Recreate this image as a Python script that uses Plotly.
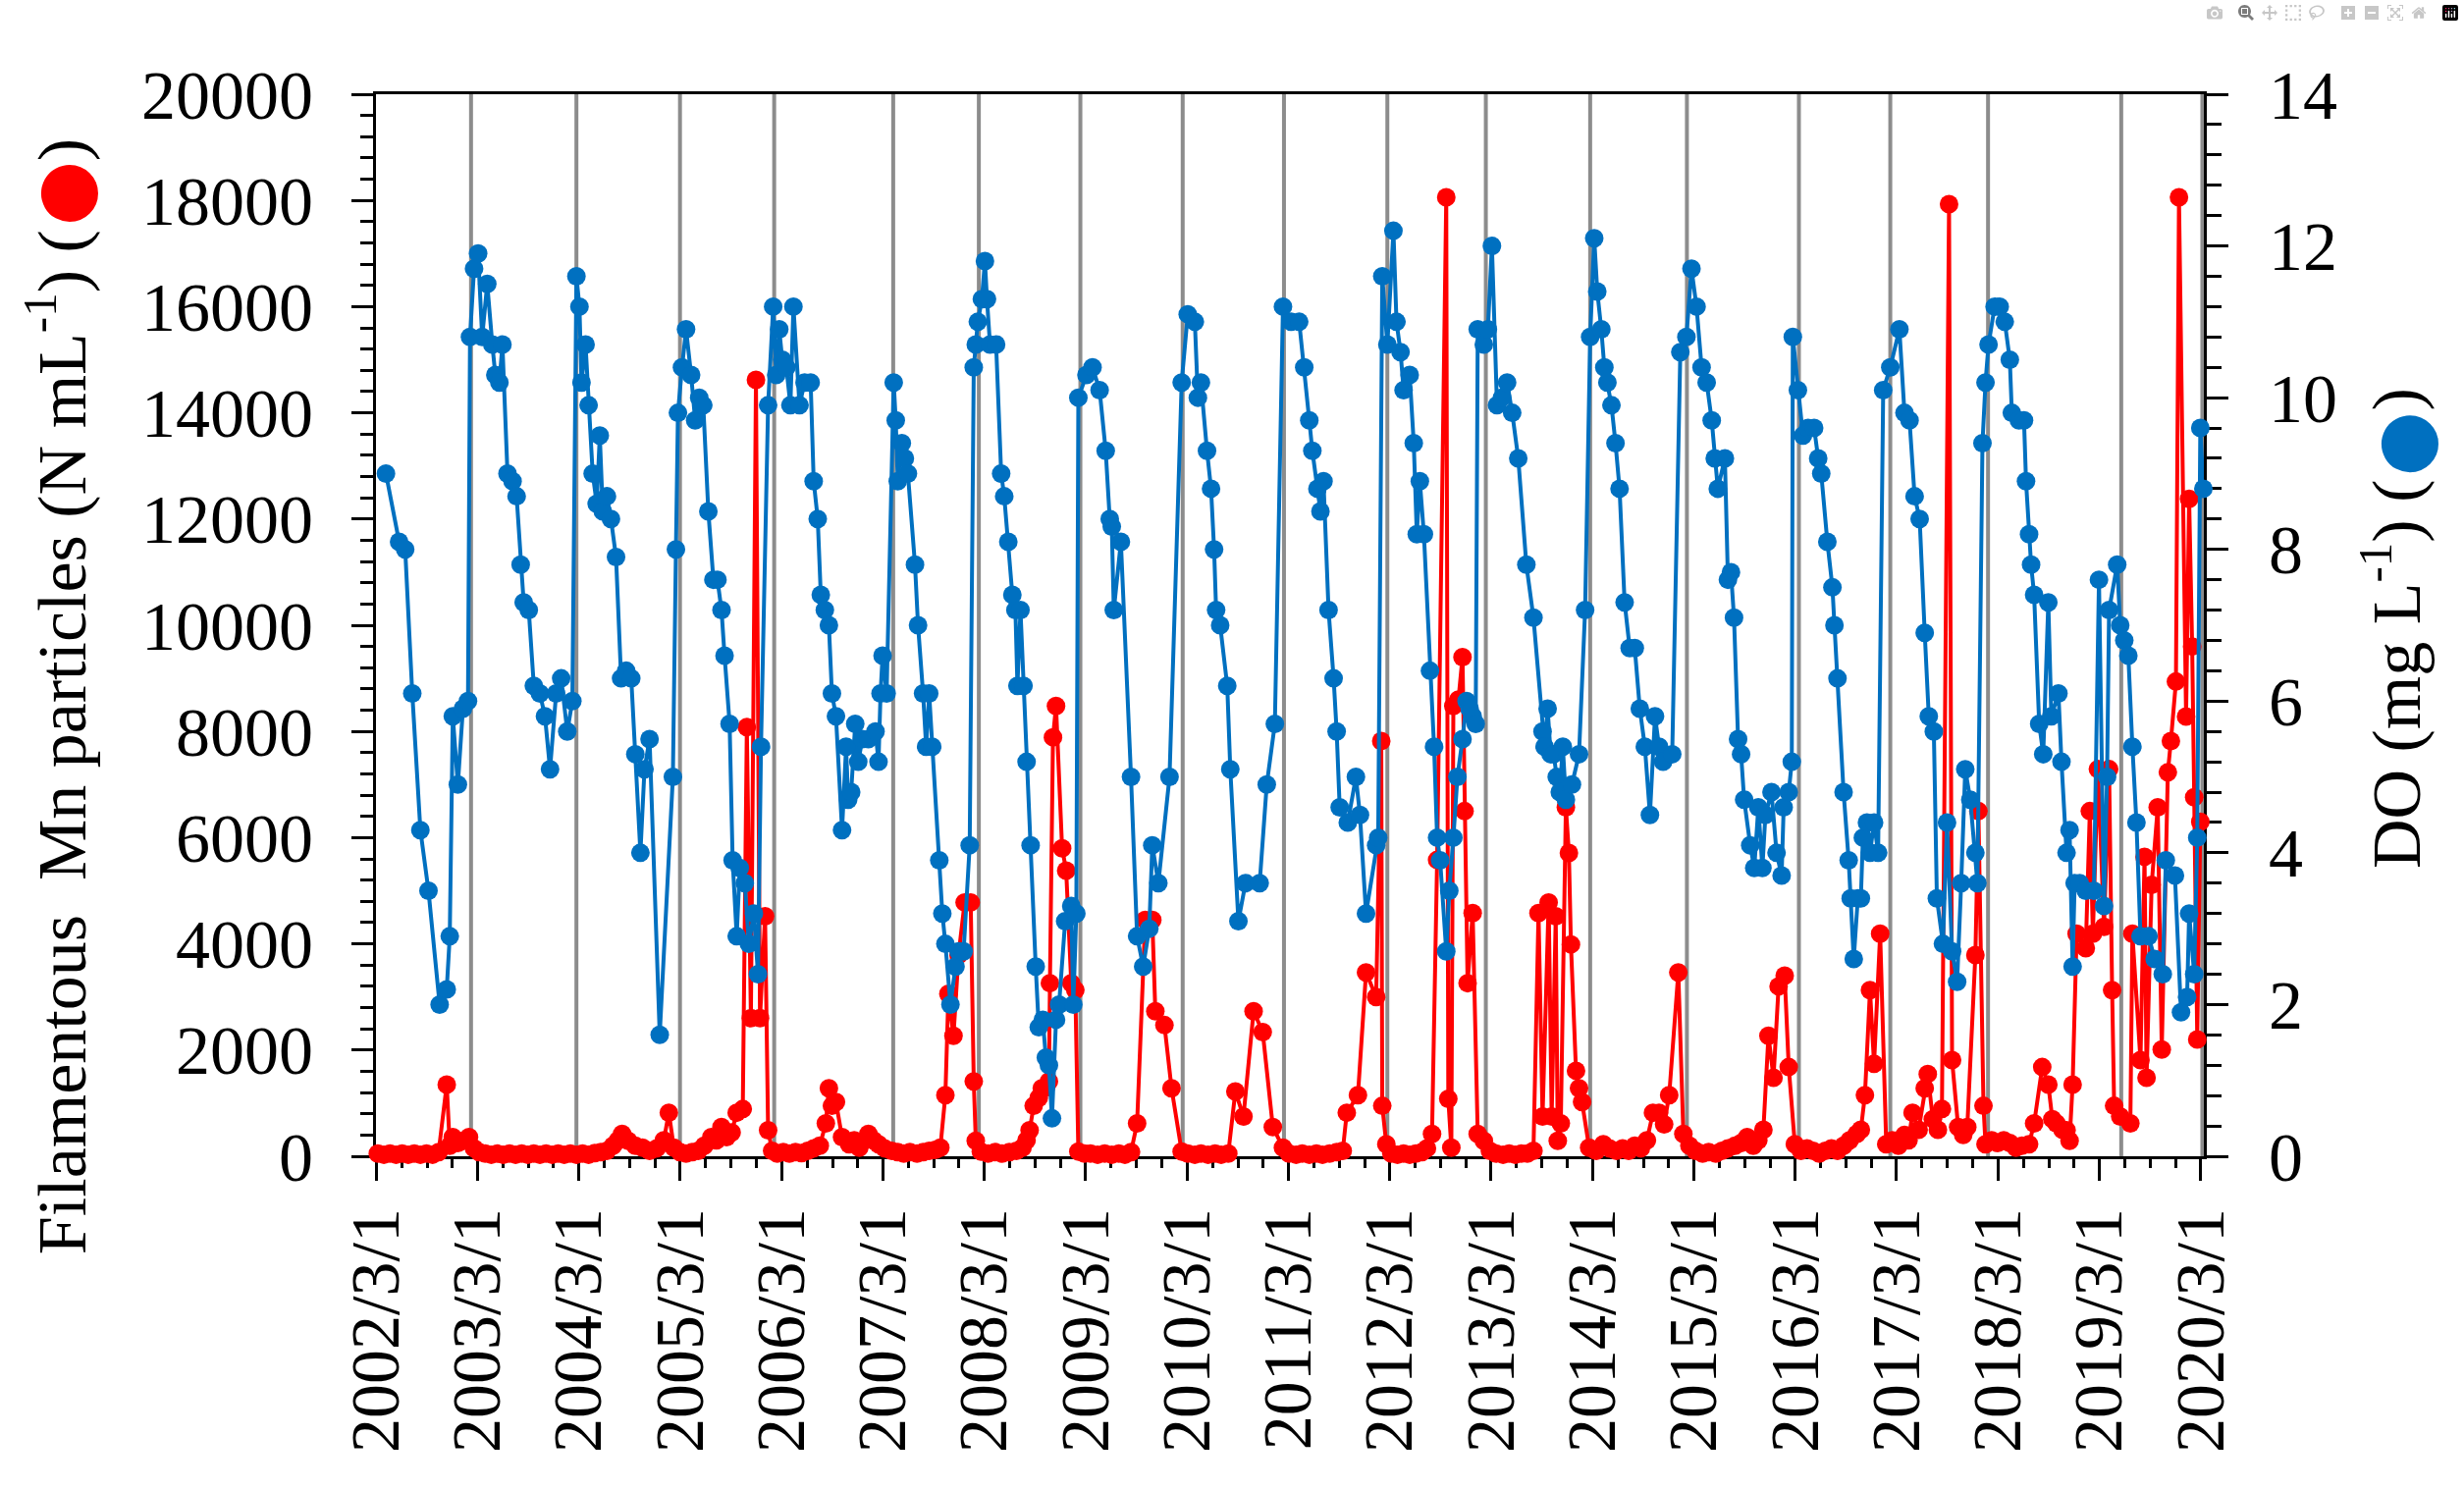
import plotly.graph_objects as go
from datetime import datetime

# ---------------- data (sample time in decimal years) ----------------
do_years = [
    2002.26, 2002.39, 2002.45, 2002.52, 2002.60, 2002.68, 2002.79, 2002.86, 2002.89, 2002.92, 2002.97, 2003.02, 2003.07,
    2003.09, 2003.13, 2003.17, 2003.21, 2003.26, 2003.31, 2003.34, 2003.38, 2003.41, 2003.46, 2003.51, 2003.55, 2003.59,
    2003.62, 2003.67, 2003.72, 2003.78, 2003.83, 2003.88, 2003.94, 2003.99, 2004.05, 2004.10,
    2004.14, 2004.17, 2004.19, 2004.23, 2004.26, 2004.30, 2004.34, 2004.37, 2004.40, 2004.44, 2004.48, 2004.53, 2004.58,
    2004.63, 2004.68, 2004.72, 2004.77, 2004.81, 2004.86, 2004.96, 2005.09,
    2005.12, 2005.14, 2005.18, 2005.22, 2005.27, 2005.31, 2005.35, 2005.39, 2005.44, 2005.49, 2005.53, 2005.57, 2005.60,
    2005.65, 2005.68, 2005.72, 2005.75, 2005.80, 2005.84, 2005.89, 2005.93, 2005.96,
    2006.03, 2006.08, 2006.11, 2006.14, 2006.17, 2006.21, 2006.25, 2006.28, 2006.34, 2006.39, 2006.45, 2006.48, 2006.52,
    2006.55, 2006.59, 2006.63, 2006.66, 2006.70, 2006.76, 2006.80, 2006.82, 2006.85, 2006.89, 2006.92, 2006.96, 2007.02,
    2007.09, 2007.12, 2007.14, 2007.16, 2007.20,
    2007.27, 2007.29, 2007.31, 2007.35, 2007.38, 2007.41, 2007.48, 2007.51, 2007.56, 2007.59, 2007.62, 2007.65, 2007.72,
    2007.75, 2007.78, 2007.83, 2007.88, 2007.91, 2007.96, 2008.02,
    2008.06, 2008.08, 2008.10, 2008.14, 2008.17, 2008.19, 2008.22, 2008.28, 2008.33, 2008.36, 2008.40, 2008.44, 2008.47,
    2008.49, 2008.52, 2008.55, 2008.58, 2008.62, 2008.67, 2008.70, 2008.74, 2008.77, 2008.80, 2008.83, 2008.87, 2008.90,
    2008.96, 2009.02, 2009.04, 2009.07,
    2009.09, 2009.17, 2009.23, 2009.30, 2009.36, 2009.40, 2009.42, 2009.44, 2009.51, 2009.61, 2009.67, 2009.73, 2009.79,
    2009.82, 2009.88, 2009.99,
    2010.11, 2010.17, 2010.24, 2010.27, 2010.30, 2010.36, 2010.40, 2010.43, 2010.45, 2010.49, 2010.56, 2010.59, 2010.67,
    2010.74, 2010.88, 2010.95, 2011.03,
    2011.11, 2011.19, 2011.27, 2011.32, 2011.37, 2011.40, 2011.45, 2011.48, 2011.51, 2011.56, 2011.61, 2011.64, 2011.67,
    2011.75, 2011.83, 2011.87, 2011.93, 2012.03, 2012.05,
    2012.09, 2012.14, 2012.20, 2012.23, 2012.27, 2012.30, 2012.36, 2012.40, 2012.43, 2012.46, 2012.50, 2012.56, 2012.60,
    2012.63, 2012.66, 2012.72, 2012.75, 2012.79, 2012.83, 2012.88, 2012.92, 2012.95, 2012.98, 2013.01,
    2013.03, 2013.09, 2013.13, 2013.17, 2013.22, 2013.27, 2013.32, 2013.37, 2013.43, 2013.51, 2013.58, 2013.67, 2013.69,
    2013.72, 2013.75, 2013.78, 2013.81, 2013.84, 2013.87, 2013.90, 2013.96, 2014.03, 2014.09,
    2014.14, 2014.18, 2014.21, 2014.25, 2014.28, 2014.31, 2014.35, 2014.39, 2014.43, 2014.48, 2014.53, 2014.58, 2014.63,
    2014.68, 2014.73, 2014.78, 2014.82, 2014.86, 2014.95,
    2015.03, 2015.09, 2015.14, 2015.19, 2015.24, 2015.29, 2015.34, 2015.37, 2015.40, 2015.47, 2015.50, 2015.53, 2015.56,
    2015.60, 2015.63, 2015.66, 2015.72, 2015.76, 2015.80, 2015.84, 2015.87, 2015.93, 2015.98, 2016.03, 2016.05, 2016.10,
    2016.13,
    2016.14, 2016.19, 2016.24, 2016.29, 2016.35, 2016.39, 2016.42, 2016.48, 2016.53, 2016.55, 2016.58, 2016.64, 2016.69,
    2016.71, 2016.74, 2016.78, 2016.81, 2016.83, 2016.87, 2016.90, 2016.94, 2016.98,
    2017.03, 2017.10, 2017.19, 2017.24, 2017.29, 2017.34, 2017.39, 2017.44, 2017.48, 2017.53, 2017.56, 2017.62, 2017.66,
    2017.71, 2017.76, 2017.80, 2017.84, 2017.89, 2017.94, 2017.96,
    2018.01, 2018.04, 2018.07, 2018.13, 2018.18, 2018.23, 2018.28, 2018.30, 2018.37, 2018.42, 2018.44, 2018.47, 2018.49,
    2018.52, 2018.57, 2018.61, 2018.66, 2018.69, 2018.76, 2018.79, 2018.84, 2018.87, 2018.90, 2018.92, 2018.97, 2019.03,
    2019.11,
    2019.16, 2019.21, 2019.24, 2019.26, 2019.34, 2019.37, 2019.41, 2019.45, 2019.49, 2019.53, 2019.57, 2019.65, 2019.71,
    2019.79, 2019.82, 2019.91, 2019.97, 2020.03, 2020.05, 2020.10, 2020.13, 2020.16, 2020.19,
]
do_mg_per_l = [
    9.0, 8.1, 8.0, 6.1, 4.3, 3.5, 2.0, 2.2, 2.9, 5.8, 4.9, 5.9, 6.0,
    10.8, 11.7, 11.9, 10.8, 11.5, 10.7, 10.3, 10.2, 10.7, 9.0, 8.9, 8.7, 7.8,
    7.3, 7.2, 6.2, 6.1, 5.8, 5.1, 6.1, 6.3, 5.6, 6.0,
    11.6, 11.2, 10.2, 10.7, 9.9, 9.0, 8.6, 9.5, 8.5, 8.7, 8.4, 7.9, 6.3,
    6.4, 6.3, 5.3, 4.0, 5.1, 5.5, 1.6, 5.0,
    8.0, 9.8, 10.4, 10.9, 10.3, 9.7, 10.0, 9.9, 8.5, 7.6, 7.6, 7.2, 6.6,
    5.7, 3.9, 2.9, 3.8, 3.6, 2.8, 3.2, 2.4, 5.4,
    9.9, 11.2, 10.3, 10.9, 10.5, 10.4, 9.9, 11.2, 9.9, 10.2, 10.2, 8.9, 8.4,
    7.4, 7.2, 7.0, 6.1, 5.8, 4.3, 5.4, 4.7, 4.8, 5.7, 5.2, 5.5, 5.5,
    5.6, 5.2, 6.1, 6.6, 6.1,
    10.2, 9.7, 8.9, 9.4, 9.2, 9.0, 7.8, 7.0, 6.1, 5.4, 6.1, 5.4, 3.9,
    3.2, 2.8, 2.0, 2.5, 2.7, 2.7, 4.1,
    10.4, 10.7, 11.0, 11.3, 11.8, 11.3, 10.7, 10.7, 9.0, 8.7, 8.1, 7.4, 7.2,
    6.2, 7.2, 6.2, 5.2, 4.1, 2.5, 1.7, 1.8, 1.3, 1.2, 0.5, 1.8, 2.0,
    3.1, 3.3, 2.0, 3.2,
    10.0, 10.3, 10.4, 10.1, 9.3, 8.4, 8.3, 7.2, 8.1, 5.0, 2.9, 2.5, 3.0,
    4.1, 3.6, 5.0,
    10.2, 11.1, 11.0, 10.0, 10.2, 9.3, 8.8, 8.0, 7.2, 7.0, 6.2, 5.1, 3.1,
    3.6, 3.6, 4.9, 5.7,
    11.2, 11.0, 11.0, 10.4, 9.7, 9.3, 8.8, 8.5, 8.9, 7.2, 6.3, 5.6, 4.6,
    4.4, 5.0, 4.5, 3.2, 4.1, 4.2,
    11.6, 10.7, 12.2, 11.0, 10.6, 10.1, 10.3, 9.4, 8.2, 8.9, 8.2, 6.4, 5.4,
    4.2, 3.9, 2.7, 3.5, 4.2, 5.0, 5.5, 6.0, 5.9, 5.8, 5.7,
    10.9, 10.7, 10.9, 12.0, 9.9, 10.0, 10.2, 9.8, 9.2, 7.8, 7.1, 5.6, 5.4,
    5.9, 5.3, 5.3, 5.0, 4.8, 5.4, 4.7, 4.9, 5.3, 7.2,
    10.8, 12.1, 11.4, 10.9, 10.4, 10.2, 9.9, 9.4, 8.8, 7.3, 6.7, 6.7, 5.9,
    5.4, 4.5, 5.8, 5.4, 5.2, 5.3,
    10.6, 10.8, 11.7, 11.2, 10.4, 10.2, 9.7, 9.2, 8.8, 9.2, 7.6, 7.7, 7.1,
    5.5, 5.3, 4.7, 4.1, 3.8, 4.6, 3.8, 4.5, 4.8, 4.0, 3.7, 4.6, 4.8,
    5.2,
    10.8, 10.1, 9.5, 9.6, 9.6, 9.2, 9.0, 8.1, 7.5, 7.0, 6.3, 4.8, 3.9,
    3.4, 2.6, 3.4, 3.4, 4.2, 4.4, 4.0, 4.4, 4.0,
    10.1, 10.4, 10.9, 9.8, 9.7, 8.7, 8.4, 6.9, 5.8, 5.6, 3.4, 2.8, 4.4,
    2.7, 2.3, 3.6, 5.1, 4.7, 4.0, 3.6,
    9.4, 10.2, 10.7, 11.2, 11.2, 11.0, 10.5, 9.8, 9.7, 9.7, 8.9, 8.2, 7.8,
    7.4, 5.7, 5.3, 7.3, 5.8, 6.1, 5.2, 4.0, 4.3, 2.5, 3.6, 3.6, 3.5,
    3.5,
    7.6, 3.3, 5.0, 7.2, 7.8, 7.0, 6.8, 6.6, 5.4, 4.4, 2.9, 2.9, 2.6,
    2.4, 3.9, 3.7, 1.9, 2.1, 3.2, 2.4, 4.2, 9.6, 8.8,
]

mn_years = [
    2002.18, 2002.24, 2002.30, 2002.36, 2002.42, 2002.48, 2002.54, 2002.60, 2002.66, 2002.72, 2002.78, 2002.86, 2002.89,
    2002.92, 2002.97, 2003.02, 2003.08, 2003.13, 2003.18, 2003.24, 2003.30, 2003.36, 2003.42, 2003.48, 2003.54, 2003.60,
    2003.66, 2003.72, 2003.78, 2003.84, 2003.90, 2003.96, 2004.02, 2004.08, 2004.14, 2004.20, 2004.26, 2004.32, 2004.38,
    2004.44, 2004.50, 2004.55, 2004.59, 2004.65, 2004.72, 2004.79, 2004.86, 2004.93, 2005.00, 2005.05, 2005.10, 2005.16,
    2005.22, 2005.28, 2005.34, 2005.40, 2005.47, 2005.52, 2005.57, 2005.62, 2005.67, 2005.72, 2005.78, 2005.82, 2005.86,
    2005.91, 2005.95, 2006.00, 2006.03, 2006.07, 2006.12, 2006.18, 2006.24, 2006.30, 2006.36, 2006.42, 2006.48, 2006.54,
    2006.60, 2006.63, 2006.66, 2006.70, 2006.76, 2006.83, 2006.88, 2006.93, 2006.98, 2007.02, 2007.07, 2007.12, 2007.18,
    2007.25, 2007.31, 2007.37, 2007.43, 2007.50, 2007.56, 2007.62, 2007.68, 2007.73, 2007.78, 2007.81, 2007.86, 2007.91,
    2007.97, 2008.03, 2008.06, 2008.08, 2008.13, 2008.20, 2008.27, 2008.34, 2008.41, 2008.48, 2008.54, 2008.58, 2008.61,
    2008.65, 2008.70, 2008.73, 2008.77, 2008.80, 2008.81, 2008.84, 2008.87, 2008.93, 2008.97, 2009.02, 2009.06, 2009.09,
    2009.15, 2009.21, 2009.28, 2009.35, 2009.42, 2009.49, 2009.55, 2009.61, 2009.67, 2009.75, 2009.82, 2009.85, 2009.94,
    2010.01, 2010.11, 2010.17, 2010.24, 2010.30, 2010.37, 2010.44, 2010.50, 2010.57, 2010.64, 2010.72, 2010.82, 2010.91,
    2011.01, 2011.11, 2011.17, 2011.24, 2011.30, 2011.37, 2011.44, 2011.50, 2011.57, 2011.64, 2011.70, 2011.74, 2011.85,
    2011.93, 2012.03, 2012.08, 2012.09, 2012.13, 2012.18, 2012.24, 2012.30, 2012.36, 2012.42, 2012.48, 2012.53, 2012.58,
    2012.63, 2012.72, 2012.74, 2012.77, 2012.79, 2012.84, 2012.88, 2012.90, 2012.93, 2012.98, 2013.03, 2013.09, 2013.15,
    2013.21, 2013.28, 2013.34, 2013.40, 2013.46, 2013.52, 2013.58, 2013.63, 2013.67, 2013.73, 2013.76, 2013.80, 2013.82,
    2013.85, 2013.90, 2013.93, 2013.95, 2014.00, 2014.03, 2014.06, 2014.13, 2014.20, 2014.27, 2014.33, 2014.40, 2014.46,
    2014.52, 2014.58, 2014.64, 2014.70, 2014.76, 2014.82, 2014.87, 2014.92, 2015.01, 2015.06, 2015.12, 2015.18, 2015.25,
    2015.31, 2015.38, 2015.44, 2015.50, 2015.57, 2015.63, 2015.69, 2015.75, 2015.80, 2015.85, 2015.90, 2015.95, 2016.00,
    2016.06, 2016.10, 2016.16, 2016.22, 2016.28, 2016.34, 2016.40, 2016.46, 2016.52, 2016.58, 2016.64, 2016.70, 2016.77,
    2016.81, 2016.85, 2016.90, 2016.94, 2017.00, 2017.06, 2017.12, 2017.18, 2017.24, 2017.28, 2017.32, 2017.38, 2017.44,
    2017.47, 2017.52, 2017.57, 2017.61, 2017.68, 2017.71, 2017.77, 2017.82, 2017.86, 2017.94, 2017.97, 2018.02, 2018.04,
    2018.10, 2018.16, 2018.22, 2018.28, 2018.34, 2018.40, 2018.47, 2018.52, 2018.60, 2018.66, 2018.70, 2018.74, 2018.80,
    2018.84, 2018.87, 2018.90, 2018.94, 2019.03, 2019.07, 2019.10, 2019.15, 2019.21, 2019.26, 2019.29, 2019.31, 2019.37,
    2019.47, 2019.49, 2019.57, 2019.61, 2019.63, 2019.68, 2019.74, 2019.78, 2019.84, 2019.87, 2019.92, 2019.95, 2020.02,
    2020.05, 2020.08, 2020.10, 2020.13, 2020.16,
]
mn_particles = [
    50, 30, 50, 30, 50, 30, 50, 30, 50, 30, 80, 1350, 200,
    360, 250, 290, 360, 150, 80, 50, 30, 50, 30, 50, 30, 50,
    30, 50, 30, 50, 30, 50, 30, 50, 30, 50, 30, 60, 80,
    100, 200, 300, 420, 290, 200, 160, 100, 150, 300, 820, 160, 80,
    50, 80, 100, 200, 360, 300, 550, 360, 450, 820, 890, 8080, 2600,
    14620, 2600, 4520, 490, 100, 50, 80, 50, 80, 60, 100, 150, 200,
    620, 1280, 950, 1020, 360, 225, 300, 160, 300, 420, 300, 225, 150,
    100, 80, 50, 80, 50, 80, 100, 120, 160, 1150, 3060, 2270, 3790,
    4780, 4780, 1410, 290, 90, 50, 80, 50, 80, 100, 160, 300, 490,
    950, 1100, 1280, 1300, 1410, 3260, 7890, 8480, 5800, 5380, 3260, 3130, 90,
    50, 50, 30, 50, 30, 50, 30, 80, 620, 4450, 4450, 2730, 2470,
    1280, 90, 50, 30, 50, 30, 50, 30, 50, 1220, 750, 2730, 2340,
    550, 160, 50, 30, 50, 30, 50, 30, 50, 80, 100, 820, 1150,
    3460, 3000, 7820, 950, 225, 50, 30, 50, 30, 50, 80, 150, 420,
    5580, 18060, 1080, 160, 8480, 8600, 9400, 6500, 3260, 4580, 420, 290, 100,
    50, 30, 50, 30, 50, 50, 100, 4580, 750, 4780, 750, 4520, 290,
    620, 6570, 5710, 3990, 1610, 1280, 1020, 160, 100, 225, 150, 100, 150,
    100, 200, 150, 300, 820, 820, 600, 1150, 3460, 420, 200, 100, 50,
    80, 50, 100, 150, 200, 250, 360, 200, 300, 500, 2270, 1480, 3200,
    3400, 1680, 225, 100, 150, 100, 50, 100, 150, 100, 200, 300, 420,
    500, 1150, 3130, 1740, 4190, 225, 300, 200, 400, 300, 820, 500, 1280,
    1550, 700, 500, 890, 17930, 1810, 550, 400, 550, 3790, 6500, 950, 225,
    300, 250, 300, 250, 160, 200, 225, 620, 1680, 1350, 700, 620, 500,
    490, 290, 1350, 4190, 3920, 6500, 4190, 7290, 4320, 7290, 3130, 950, 750,
    620, 4190, 1810, 5640, 1480, 5110, 6570, 2010, 7230, 7820, 8940, 18060, 8280,
    12380, 9600, 6760, 2200, 6300,
]

# decimal-year positions of the grey year-separator lines
year_separators = [2003.10, 2004.14, 2005.16, 2006.09, 2007.265, 2008.11, 2009.11, 2010.12, 2011.12,
                   2012.14, 2013.11, 2014.14, 2015.095, 2016.20, 2017.10, 2018.065, 2019.38, 2020.18]

tick_labels = ["2002/3/1", "2003/3/1", "2004/3/1", "2005/3/1", "2006/3/1", "2007/3/1", "2008/3/1",
               "2009/3/1", "2010/3/1", "2011/3/1", "2012/3/1", "2013/3/1", "2014/3/1", "2015/3/1",
               "2016/3/1", "2017/3/1", "2018/3/1", "2019/3/1", "2020/3/1"]


def to_date(v):
    y = int(v)
    start, end = datetime(y, 1, 1), datetime(y + 1, 1, 1)
    return start + (end - start) * (v - y)


tick_dates = [datetime.strptime(s, "%Y/%m/%d") for s in tick_labels]

RED = "#FF0000"
BLUE = "#0070C0"
FONT = "Liberation Serif"

fig = go.Figure()
fig.add_trace(go.Scatter(
    x=[to_date(v) for v in mn_years], y=mn_particles, mode="lines+markers",
    line=dict(color=RED, width=4), marker=dict(color=RED, size=19),
    cliponaxis=False, showlegend=False, yaxis="y"))
fig.add_trace(go.Scatter(
    x=[to_date(v) for v in do_years], y=do_mg_per_l, mode="lines+markers",
    line=dict(color=BLUE, width=4), marker=dict(color=BLUE, size=19),
    cliponaxis=False, showlegend=False, yaxis="y2"))

shapes = [dict(type="line", xref="x", yref="paper", x0=to_date(v), x1=to_date(v), y0=0, y1=1,
               line=dict(color="#8c8c8c", width=4), layer="below") for v in year_separators]

GAP = "\u00a0\u00a0\u00a0\u00a0"
title_font = dict(family=FONT, size=70, color="black")
tickfont = dict(family=FONT, size=70, color="black")
fig.update_layout(
    width=2510, height=1517,
    margin=dict(l=383, r=265, t=96, b=339, pad=0),
    paper_bgcolor="white", plot_bgcolor="white",
    shapes=shapes,
    xaxis=dict(
        type="date", range=[datetime(2002, 3, 1), to_date(2020.195)],
        tickmode="array", tickvals=tick_dates, ticktext=tick_labels, tickangle=-90,
        ticks="outside", ticklen=22, tickwidth=3, tickcolor="black", tickfont=tickfont,
        ticklabelstandoff=0,
        minor=dict(ticks="outside", ticklen=9, tickwidth=3, tickcolor="black",
                   dtick="M3", tick0="2002-03-01", showgrid=False),
        showline=True, linewidth=3, linecolor="black", mirror=True,
        showgrid=False, zeroline=False, layer="below traces"),
    yaxis=dict(
        range=[0, 20000], tickmode="linear", tick0=0, dtick=2000, tickformat="d",
        ticks="outside", ticklen=22, tickwidth=3, tickcolor="black", tickfont=tickfont,
        ticklabelstandoff=25,
        minor=dict(ticks="outside", ticklen=13, tickwidth=2.5, tickcolor="black", dtick=400, showgrid=False),
        showline=True, linewidth=3, linecolor="black", showgrid=False, zeroline=False,
        layer="below traces"),
    yaxis2=dict(
        overlaying="y", side="right", range=[0, 14], tickmode="linear", tick0=0, dtick=2,
        ticks="outside", ticklen=22, tickwidth=3, tickcolor="black", tickfont=tickfont,
        ticklabelstandoff=27,
        minor=dict(ticks="outside", ticklen=15, tickwidth=2.5, tickcolor="black", dtick=0.4, showgrid=False),
        showline=True, linewidth=3, linecolor="black", showgrid=False, zeroline=False,
        layer="below traces"),
    annotations=[
        dict(text="Filamentous  Mn particles (N mL<sup>-1</sup>) (" + GAP + ")",
             xref="paper", yref="paper", x=-0.175, y=0.4325, textangle=-90, showarrow=False,
             xanchor="center", yanchor="middle", font=title_font),
        dict(text="●", xref="paper", yref="paper", x=-0.1714, y=0.9067, textangle=-90, showarrow=False,
             xanchor="center", yanchor="middle", font=dict(family=FONT, size=135, color=RED)),
        dict(text="DO (mg L<sup>-1</sup>) (" + GAP + ")",
             xref="paper", yref="paper", x=1.1025, y=0.497, textangle=-90, showarrow=False,
             xanchor="center", yanchor="middle", font=title_font),
        dict(text="●", xref="paper", yref="paper", x=1.1090, y=0.671, textangle=-90, showarrow=False,
             xanchor="center", yanchor="middle", font=dict(family=FONT, size=135, color=BLUE)),
    ],
)

fig.write_html("out.html", post_script="document.body.style.margin='0';")
